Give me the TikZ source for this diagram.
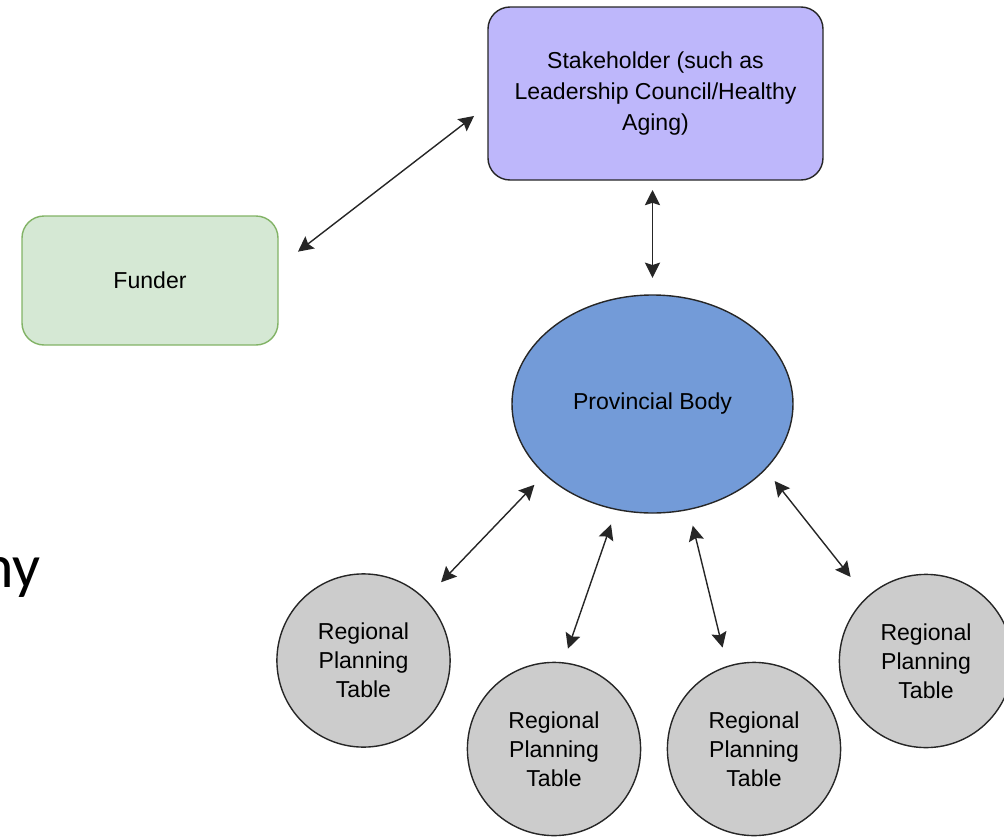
\documentclass[tikz,border=0pt]{standalone}
\usepackage{fontspec}
\setmainfont{Liberation Sans}
\newfontfamily\slidefont{Carlito}
\usepackage{xcolor}
\usepackage{tikz}
\usetikzlibrary{shapes,positioning,calc,arrows.meta}

\definecolor{stakefill}{RGB}{190,183,251}
\definecolor{fundfill}{RGB}{213,232,212}
\definecolor{funddraw}{RGB}{130,179,102}
\definecolor{provfill}{RGB}{115,155,216}
\definecolor{regfill}{RGB}{204,204,204}

\begin{document}
\begin{tikzpicture}[
    box/.style={draw=black!85, rounded corners=0.55cm, line width=1pt, outer sep=0pt, align=center, font=\fontsize{16.4}{21.8}\selectfont},
    region/.style={draw=black!85, circle, fill=regfill, minimum size=4.33cm, inner sep=0pt, outer sep=0pt, line width=1pt, align=center, font=\fontsize{16.4}{20.8}\selectfont},
    link/.style={{Stealth[length=0.38cm,width=0.38cm,inset=0.06cm]}-{Stealth[length=0.38cm,width=0.38cm,inset=0.06cm]}, line width=1pt, draw=black!85}
]
    \useasboundingbox (0,0) rectangle (25.1,-20.975);

    \node [box, fill=stakefill, minimum width=8.375cm, minimum height=4.325cm] (stake) at (16.3875,-2.3375) {Stakeholder (such as\\Leadership Council/Healthy\\Aging)};
    \node [box, fill=fundfill, draw=funddraw, minimum width=6.4cm, minimum height=3.225cm] (fund) at (3.75,-7.0125) {Funder};
    \node [draw=black!85, ellipse, fill=provfill, minimum width=7.025cm, minimum height=5.45cm, inner sep=0pt, outer sep=0pt, line width=1pt, font=\fontsize{16.4}{21}\selectfont] (prov) at (16.3125,-10.1) {Provincial Body};

    \node [region] (rpt1) at (9.0875,-16.5125) {Regional\\Planning\\Table};
    \node [region] (rpt2) at (13.85,-18.725) {Regional\\Planning\\Table};
    \node [region] (rpt3) at (18.85,-18.725) {Regional\\Planning\\Table};
    \node [region] (rpt4) at (23.15,-16.525) {Regional\\Planning\\Table};

    \node [anchor=base east, inner sep=0pt, font=\slidefont\fontsize{44}{50}\selectfont] (ny) at (1.03,-14.675) {ny};

    \draw [link, shorten <=0.63cm, shorten >=0.44cm] (fund.6.9) -- (stake.184);
    \draw [link, shorten <=0.25cm, shorten >=0.43cm] (stake.south -| prov.north) -- (prov.north);
    \draw [link, shorten <=0.375cm, shorten >=0.59cm] (prov.213.5) -- (rpt1.45.9);
    \draw [link, shorten <=0.4cm, shorten >=0.375cm] (prov.251.9) -- (rpt2.84.9);
    \draw [link, shorten <=0.42cm, shorten >=0.49cm] (prov.289.4) -- (rpt3.108.6);
    \draw [link, shorten <=0.38cm, shorten >=0.66cm] (prov.330.4) -- (rpt4.133.9);
\end{tikzpicture}
\end{document}
